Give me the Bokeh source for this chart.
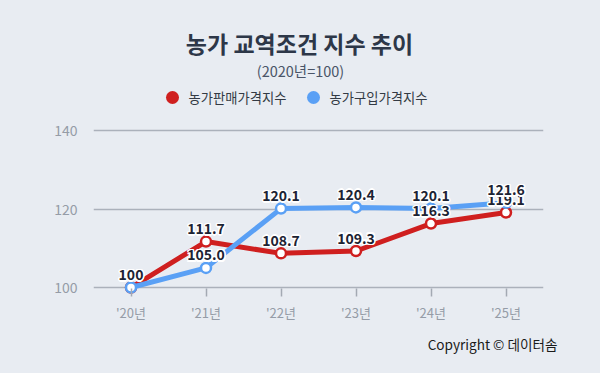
from bokeh.plotting import figure
from bokeh.layouts import column
from bokeh.models import FactorRange, Range1d, FixedTicker, Title
from bokeh.core.properties import value
from bokeh.embed import file_html
from bokeh.resources import INLINE

years = ["'20년", "'21년", "'22년", "'23년", "'24년", "'25년"]
sell = [100, 111.7, 108.7, 109.3, 116.3, 119.1]
buy = [100, 105.0, 120.1, 120.4, 120.1, 121.6]
sell_labels = ["100", "111.7", "108.7", "109.3", "116.3", "119.1"]
buy_labels = ["100", "105.0", "120.1", "120.4", "120.1", "121.6"]
y_ticks = [100, 120, 140]
series_names = ["농가판매가격지수", "농가구입가격지수"]
title_text = "농가 교역조건 지수 추이"
subtitle_text = "(2020년=100)"
credit_text = "Copyright © 데이터솜"

FONT = "Noto Sans CJK KR"
BG = "#e8ecf2"
RED = "#cf1f1f"
BLUE = "#5aa0f5"

TOP_H = 110

# header: title, subtitle, legend (frame is aligned with the chart frame: x 93..543)
top = figure(width=600, height=TOP_H, x_range=Range1d(93, 543), y_range=Range1d(TOP_H, 0),
             output_backend="svg", toolbar_location=None, x_axis_location=None,
             y_axis_location=None, min_border=0, min_border_left=93, min_border_right=57,
             background_fill_color=BG, border_fill_color=BG, outline_line_color=None)
top.xgrid.grid_line_color = None
top.ygrid.grid_line_color = None
top.text(x=[299], y=[42], text=[title_text], text_align="center", text_baseline="middle",
         text_font=value(FONT), text_font_size="23px", text_font_style="bold", text_color="#2d3748")
top.text(x=[300], y=[70], text=[subtitle_text], text_align="center", text_baseline="middle",
         text_font=value(FONT), text_font_size="14.5px", text_color="#4a5568")
top.scatter(x=[172, 313], y=[97, 97], size=13, fill_color=[RED, BLUE], line_color=None)
top.text(x=[188, 329], y=[97, 97], text=series_names, text_align="left", text_baseline="middle",
         text_font=value(FONT), text_font_size="13.3px", text_color="#333a44")

# main chart
p = figure(width=600, height=373 - TOP_H, x_range=FactorRange(*years, range_padding=0),
           y_range=Range1d(97.71, 142.04), output_backend="svg", toolbar_location=None,
           min_border_left=93, min_border_right=57, min_border_top=122 - TOP_H,
           min_border_bottom=77,
           background_fill_color=BG, border_fill_color=BG, outline_line_color=None)

p.yaxis.ticker = FixedTicker(ticks=y_ticks)
p.yaxis.axis_line_color = None
p.yaxis.major_tick_line_color = None
p.yaxis.minor_tick_line_color = None
p.yaxis.major_label_standoff = 10
p.yaxis.major_label_text_font = FONT
p.yaxis.major_label_text_font_size = "14px"
p.yaxis.major_label_text_color = "#959ca7"

p.xaxis.axis_line_color = None
p.xaxis.major_tick_in = 8
p.xaxis.major_tick_out = 0
p.xaxis.major_tick_line_color = "#a3a9b3"
p.xaxis.major_tick_line_width = 1.5
p.xaxis.major_label_standoff = 6
p.xaxis.major_label_text_font = FONT
p.xaxis.major_label_text_font_size = "13px"
p.xaxis.major_label_text_color = "#959ca7"

p.xgrid.grid_line_color = None
p.ygrid.ticker = FixedTicker(ticks=y_ticks)
p.ygrid.grid_line_color = "#abb1bb"
p.ygrid.grid_line_width = 1.5

p.line(years, sell, line_color=RED, line_width=5)
p.scatter(years, sell, size=10, fill_color="white", line_color=RED, line_width=2.5)
p.line(years, buy, line_color=BLUE, line_width=5)
p.scatter(years, buy, size=10, fill_color="white", line_color=BLUE, line_width=2.5)

halo = [(-1.5, 0), (1.5, 0), (0, -1.5), (0, 1.5), (-1.2, -1.2), (1.2, -1.2), (-1.2, 1.2), (1.2, 1.2)]
for vals, labs in ((sell, sell_labels), (buy, buy_labels)):
    for dx, dy in halo:
        p.text(x=years, y=vals, text=labs, x_offset=dx, y_offset=-13 + dy,
               text_align="center", text_baseline="middle", text_color="white",
               text_font=value(FONT), text_font_size="14px", text_font_style="bold")
    p.text(x=years, y=vals, text=labs, y_offset=-13,
           text_align="center", text_baseline="middle", text_color="#1c2333",
           text_font=value(FONT), text_font_size="14px", text_font_style="bold")

# footer: credit
p.add_layout(Title(text=credit_text, align="right", offset=-14, standoff=15,
                   text_font=FONT, text_font_size="13.6px", text_font_style="normal",
                   text_color="#1a1a1a"), "below")

layout = column(top, p, spacing=0)
html = file_html(layout, INLINE)
html = html.replace("</head>", "<style>html, body { background: %s; }</style></head>" % BG, 1)
open("out.html", "w").write(html)
